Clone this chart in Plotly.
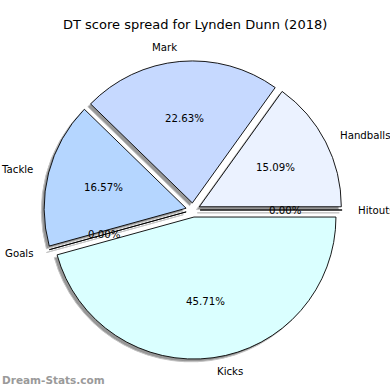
import math
import plotly.graph_objects as go

# ---- data ----
labels = ["Handballs", "Mark", "Tackle", "Goals", "Kicks", "Hitouts"]
values = [15.09, 22.63, 16.57, 0.0, 45.71, 0.0]
colors = ["#ebf2ff", "#c6d9ff", "#b5d6ff", "#b5d6ff", "#daffff", "#ebf2ff"]
title_text = "DT score spread for Lynden Dunn (2018)"
watermark = "Dream-Stats.com"

W = H = 390
explode = 0.05
cx_px, cy_px = 193.0, 210.0   # pie centre in pixels
r_px = 142.0                   # pie radius in pixels
shadow_dx, shadow_dy = -2.8, 2.8

box = r_px * (2 + 2 * explode)

def dom(cx, cy):
    x0 = (cx - box / 2) / W
    x1 = (cx + box / 2) / W
    y0 = 1 - (cy + box / 2) / H
    y1 = 1 - (cy - box / 2) / H
    return dict(x=[x0, x1], y=[y0, y1])

# slices listed clockwise from 3 o'clock (matplotlib draws counter-clockwise from 3 o'clock)
rev_labels = labels[::-1]
rev_values = values[::-1]
rev_colors = colors[::-1]

fig = go.Figure()

# shadow
fig.add_trace(go.Pie(
    labels=rev_labels, values=rev_values, sort=False, direction="clockwise",
    rotation=90, pull=[explode] * len(values), textinfo="none",
    marker=dict(colors=["#979797"] * len(values), line=dict(color="#c4c4c4", width=1)),
    domain=dom(cx_px + shadow_dx, cy_px + shadow_dy), showlegend=False, hoverinfo="skip",
))
# main pie
fig.add_trace(go.Pie(
    labels=rev_labels, values=rev_values, sort=False, direction="clockwise",
    rotation=90, pull=[explode] * len(values), textinfo="none",
    marker=dict(colors=rev_colors, line=dict(color="#000000", width=0.9)),
    domain=dom(cx_px, cy_px), showlegend=False,
))

# text placement following matplotlib's pie logic (label 1.1 r, pct 0.6 r)
total = sum(values)
theta1 = 0.0
annotations = []
for lab, v in zip(labels, values):
    frac = v / total
    theta2 = theta1 + frac
    tm = math.pi * (theta1 + theta2)
    ox = cx_px + explode * r_px * math.cos(tm)
    oy = cy_px - explode * r_px * math.sin(tm)
    lx = ox + 1.1 * r_px * math.cos(tm)
    ly = oy - 1.1 * r_px * math.sin(tm)
    annotations.append(dict(
        x=lx / W, y=1 - ly / H, xref="paper", yref="paper", text=lab,
        showarrow=False, xanchor="left" if lx - cx_px > 0 else "right", yanchor="middle",
        font=dict(family="DejaVu Sans", size=10.2, color="#000000"),
    ))
    px_ = ox + 0.6 * r_px * math.cos(tm)
    py_ = oy - 0.6 * r_px * math.sin(tm)
    annotations.append(dict(
        x=px_ / W, y=1 - py_ / H, xref="paper", yref="paper", text=f"{v:.2f}%",
        showarrow=False, xanchor="center", yanchor="middle",
        font=dict(family="DejaVu Sans", size=10.2, color="#000000"),
    ))
    theta1 = theta2

annotations.append(dict(
    x=0.5, y=1 - 25 / H, xref="paper", yref="paper", text=title_text, showarrow=False,
    xanchor="center", yanchor="middle", font=dict(family="DejaVu Sans", size=13, color="#000000"),
))
annotations.append(dict(
    x=0, y=1 - 380 / H, xref="paper", yref="paper", text="<b>" + watermark + "</b>", showarrow=False,
    xanchor="left", yanchor="middle", font=dict(family="DejaVu Sans", size=10.5, color="#9a9a9a"),
))

fig.update_layout(
    width=W, height=H, margin=dict(l=0, r=0, t=0, b=0),
    paper_bgcolor="white", plot_bgcolor="white", annotations=annotations,
)
fig.write_html(
    "out.html",
    config={"displayModeBar": False},
    post_script="document.body.style.margin='0';document.body.style.overflow='hidden';",
)
